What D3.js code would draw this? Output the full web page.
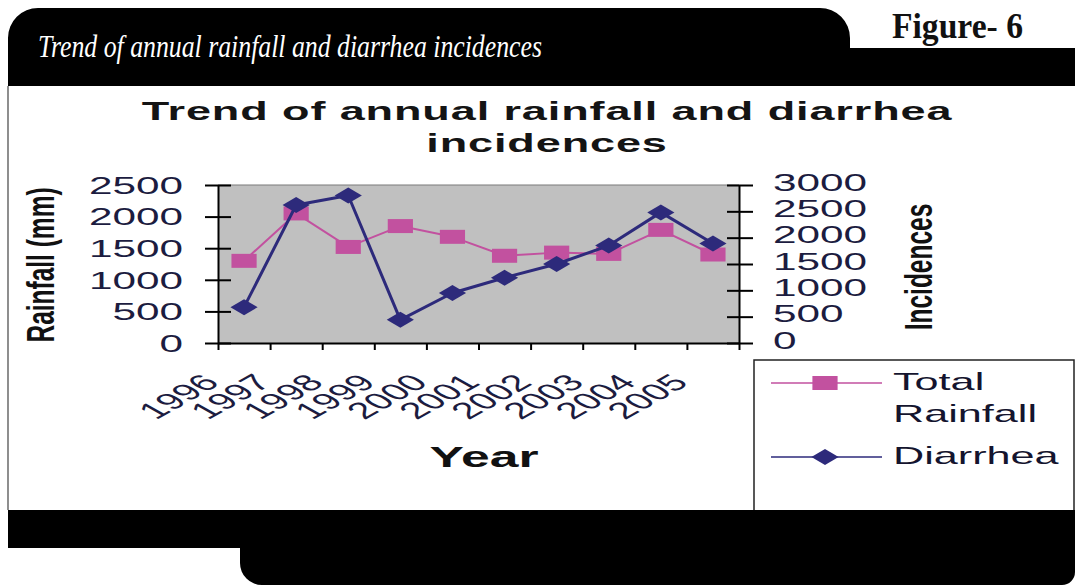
<!DOCTYPE html>
<html>
<head>
<meta charset="utf-8">
<script src="https://cdn.jsdelivr.net/npm/d3@7"></script>
<style>
  html, body { margin: 0; padding: 0; background: #fff; }
  svg { display: block; }
</style>
</head>
<body>
<script>
// ---- data ----
const years = ["1996", "1997", "1998", "1999", "2000", "2001", "2002", "2003", "2004", "2005"];
const rainfall = [1300, 2050, 1520, 1850, 1680, 1380, 1430, 1410, 1790, 1400];   // mm
const diarrhea = [680, 2620, 2800, 440, 950, 1240, 1500, 1850, 2480, 1890];      // cases
const leftTicks = [0, 500, 1000, 1500, 2000, 2500];
const rightTicks = [0, 500, 1000, 1500, 2000, 2500, 3000];
const seriesNames = ["Total Rainfall", "Diarrhea"];
const seriesColors = ["#c2519f", "#2d2a7b"];

// ---- page / layout ----
const W = 1075, H = 585;
const plot = { left: 218, right: 739, top: 185, bottom: 343 };
const SX = 1.8;                       // horizontal stretch of the chart lettering
const sans = "Arial, 'Liberation Sans', sans-serif";
const serif = "'Times New Roman', 'Liberation Serif', serif";
const tickColor = "#1c1c40";

const svg = d3.select("body").append("svg").attr("width", W).attr("height", H);
svg.append("rect").attr("width", W).attr("height", H).attr("fill", "#fff");

// ---- page frame: header tab and footer band ----
svg.append("path")
  .attr("d", "M8,86 L8,38 A30,30 0 0 1 38,8 L820,8 A30,30 0 0 1 850,38 L850,48 L1075,48 L1075,86 Z")
  .attr("fill", "#000");
svg.append("line").attr("x1", 8).attr("x2", 8).attr("y1", 86).attr("y2", 510)
  .attr("stroke", "#444").attr("stroke-width", 1.2);
svg.append("path")
  .attr("d", "M8,510 L1075,510 L1075,572 A13,13 0 0 1 1062,585 L262,585 A22,22 0 0 1 240,563 L240,548 L8,548 Z")
  .attr("fill", "#000");

svg.append("text")
  .attr("x", 38).attr("y", 57)
  .attr("font-family", serif).attr("font-style", "italic").attr("font-size", 31)
  .attr("fill", "#fff")
  .attr("textLength", 504).attr("lengthAdjust", "spacingAndGlyphs")
  .text("Trend of  annual rainfall and diarrhea incidences");

svg.append("text")
  .attr("x", 892).attr("y", 38)
  .attr("font-family", serif).attr("font-weight", "bold").attr("font-size", 36)
  .attr("fill", "#111")
  .attr("textLength", 131).attr("lengthAdjust", "spacingAndGlyphs")
  .text("Figure- 6");

// ---- scales ----
const x = d3.scaleBand().domain(years).range([plot.left, plot.right]);
const xEdge = d3.scaleLinear().domain([0, years.length]).range([plot.left, plot.right]);
const yL = d3.scaleLinear().domain([0, 2500]).range([plot.bottom, plot.top]);
const yR = d3.scaleLinear().domain([0, 3000]).range([plot.bottom, plot.top]);
const cx = d => x(d) + x.bandwidth() / 2;

// helper for stretched text
function stretched(sel, tx, ty, rot) {
  return sel.attr("transform", `translate(${tx},${ty}) scale(${SX},1)` + (rot ? ` rotate(${rot})` : ""));
}

// ---- chart title ----
const title = svg.append("g").attr("font-family", sans).attr("font-weight", "bold")
  .attr("font-size", 25).attr("fill", "#141414").attr("text-anchor", "middle");
stretched(title.append("text").attr("letter-spacing", 0.5).text("Trend of annual rainfall and diarrhea"), 547, 120);
stretched(title.append("text").attr("letter-spacing", 0.5).text("incidences"), 547, 152);

// ---- plot area ----
svg.append("rect")
  .attr("x", plot.left).attr("y", plot.top)
  .attr("width", plot.right - plot.left).attr("height", plot.bottom - plot.top)
  .attr("fill", "#c0c0c0");
svg.append("line")
  .attr("x1", plot.left).attr("x2", plot.right).attr("y1", plot.top).attr("y2", plot.top)
  .attr("stroke", "#7a7a7a").attr("stroke-width", 1.2);

function styleAxis(g) {
  g.attr("font-family", sans).attr("font-size", 23.5);
  g.selectAll(".domain, .tick line").attr("stroke", "#000").attr("stroke-width", 2);
  g.selectAll(".tick text").attr("fill", tickColor);
}

// left axis (rainfall)
const gL = svg.append("g").attr("transform", `translate(${plot.left},0)`)
  .call(d3.axisLeft(yL).tickValues(leftTicks).tickSizeInner(13).tickSizeOuter(0).tickFormat(d3.format("d")))
  .call(styleAxis);
gL.selectAll(".tick text").attr("x", null).attr("dy", "0.35em")
  .attr("transform", `translate(-35,0) scale(${SX},1)`);
svg.append("g").attr("transform", `translate(${plot.left},0)`)
  .call(d3.axisLeft(yL).tickValues(leftTicks).tickSize(-13).tickFormat(""))
  .call(g => g.select(".domain").remove())
  .call(styleAxis);

// right axis (incidences)
const gR = svg.append("g").attr("transform", `translate(${plot.right},0)`)
  .call(d3.axisRight(yR).tickValues(rightTicks).tickSizeInner(14).tickSizeOuter(0).tickFormat(d3.format("d")))
  .call(styleAxis);
gR.selectAll(".tick text").attr("x", null).attr("dy", "0.3em")
  .attr("transform", `translate(34,-2) scale(${SX},1)`);
svg.append("g").attr("transform", `translate(${plot.right},0)`)
  .call(d3.axisRight(yR).tickValues(rightTicks).tickSize(-12).tickFormat(""))
  .call(g => g.select(".domain").remove())
  .call(styleAxis);

// bottom axis: ticks on category edges
svg.append("g").attr("transform", `translate(0,${plot.bottom})`)
  .call(d3.axisBottom(xEdge).ticks(years.length).tickSize(7).tickSizeOuter(0).tickFormat(""))
  .call(styleAxis);

// rotated year labels
svg.append("g").attr("font-family", sans).attr("font-size", 23).attr("fill", tickColor)
  .attr("text-anchor", "end")
  .selectAll("text").data(years).join("text")
  .attr("transform", d => `translate(${cx(d) - 23},384) scale(${SX},1) rotate(-45)`)
  .text(d => d);

// axis titles
const axTitle = svg.append("g").attr("font-family", sans).attr("font-weight", "bold")
  .attr("fill", "#111").attr("text-anchor", "middle");
axTitle.append("text").attr("font-size", 29)
  .attr("transform", `translate(484,467) scale(1.78,1)`).text("Year");
axTitle.append("text").attr("font-size", 24.5)
  .attr("transform", `translate(54,265) scale(1.6,1) rotate(-90)`).text("Rainfall (mm)");
axTitle.append("text").attr("font-size", 24.5)
  .attr("transform", `translate(932,267) scale(1.6,1) rotate(-90)`).text("Incidences");

// ---- series ----
const squareSym = d3.symbol(d3.symbolSquare, 196)();
const diamondSym = d3.symbol(d3.symbolSquare, 128)();
const markerTf = [
  (px, py) => `translate(${px},${py}) scale(${SX},1)`,
  (px, py) => `translate(${px},${py}) scale(1.7,1) rotate(45)`
];
const markerPath = [squareSym, diamondSym];

const series = [
  { name: seriesNames[0], values: rainfall, y: yL, color: seriesColors[0], width: 2 },
  { name: seriesNames[1], values: diarrhea, y: yR, color: seriesColors[1], width: 3 }
];

series.forEach((s, k) => {
  const line = d3.line().x((d, i) => cx(years[i])).y(d => s.y(d));
  svg.append("path").datum(s.values)
    .attr("d", line).attr("fill", "none")
    .attr("stroke", s.color).attr("stroke-width", s.width).attr("stroke-linejoin", "round");
  svg.append("g").selectAll("path").data(s.values).join("path")
    .attr("d", markerPath[k])
    .attr("transform", (d, i) => markerTf[k](cx(years[i]), s.y(d)))
    .attr("fill", s.color);
});

// ---- legend ----
const lg = svg.append("g");
lg.append("rect").attr("x", 754).attr("y", 360).attr("width", 320).attr("height", 160)
  .attr("fill", "#fff").attr("stroke", "#222").attr("stroke-width", 1.5);
const legendRows = [383, 457];
series.forEach((s, k) => {
  const ly = legendRows[k];
  lg.append("line").attr("x1", 771).attr("x2", 882).attr("y1", ly).attr("y2", ly)
    .attr("stroke", s.color).attr("stroke-width", 1.6);
  lg.append("path").attr("d", markerPath[k]).attr("transform", markerTf[k](825, ly)).attr("fill", s.color);
  const words = s.name.split(" ");
  words.forEach((w, j) => {
    lg.append("text")
      .attr("font-family", sans).attr("font-size", 24).attr("fill", "#14142e")
      .attr("transform", `translate(893,${ly + 7 + j * 32}) scale(${SX},1)`)
      .text(w);
  });
});
// footer band drawn over the legend's lower edge
svg.append("rect").attr("x", 8).attr("y", 510).attr("width", W - 8).attr("height", 38).attr("fill", "#000");
</script>
</body>
</html>
